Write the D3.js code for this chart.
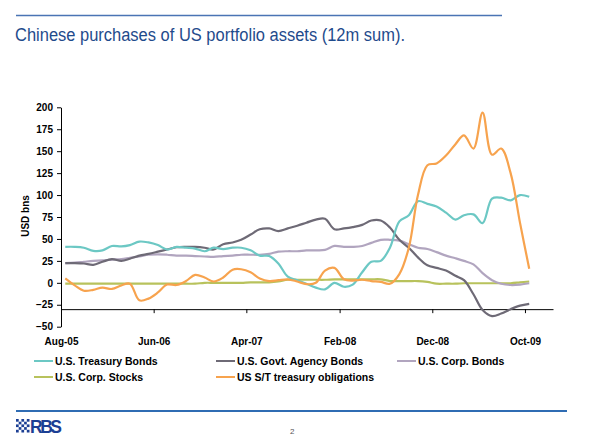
<!DOCTYPE html>
<html>
<head>
<meta charset="utf-8">
<script src="https://cdn.jsdelivr.net/npm/d3@7"></script>
<style>
  body { margin: 0; background: #fff; }
  svg { display: block; font-family: "Liberation Sans", Arial, sans-serif; }
  .axis text { font-size: 10px; font-weight: bold; fill: #000; }
  .axis path, .axis line { stroke: #000; }
</style>
</head>
<body>
<div id="chart"></div>
<script>
// Monthly data, Aug-05 .. Oct-09 (12m sums, USD bn)
const firstMonth = new Date(2005, 7, 1);
const lastMonth = new Date(2009, 9, 1);

const treasuryBonds = [41, 41, 40, 36.5, 37, 42, 41.5, 43, 47, 46,
  43, 38, 41, 40, 39, 36, 40, 38.5, 40, 40,
  37, 31, 30.5, 22, 7, 3, -1, -5.5, -7.5, 0,
  -4.5, -2, 12, 24, 25, 40, 70, 77, 93, 90,
  87, 80, 72, 77, 78, 68, 96, 97, 94, 100, 98];

const agencyBonds = [22.5, 22.5, 22, 20.5, 24, 27, 25, 27.5, 31, 33,
  35.5, 38, 40.5, 41, 41, 40, 38, 44, 46, 49,
  55, 61, 62, 59, 62, 65, 68.5, 72, 73, 61,
  62, 63.5, 66, 71, 71, 63, 49, 40, 29, 20,
  17, 14, 8, 3, -13, -31, -38, -35, -30, -26, -24];

const corpBonds = [22.5, 23, 24, 25, 25.5, 26.5, 27, 28.5, 30, 32,
  32.5, 32, 31, 31, 30.5, 30, 29.5, 30.5, 31, 32,
  32, 32, 33, 35.5, 36, 36, 37, 37, 37.5, 42,
  41, 41, 42, 45.5, 49, 49, 48, 44, 40, 38.5,
  35, 31, 28, 25, 21, 11, 3, -1, -2.5, -2, -0.5];

const corpStocks = [-1, -1, -1, -1, -1, -1, -1, -1, -1, -1,
  -1, -1, -1, -1, -1, 0, 0, 0, 0, 0,
  0.5, 0.5, 0.5, 1.5, 3.5, 3.5, 3.5, 3.5, 3.5, 4,
  4, 4, 4, 4, 4, 2, 2, 2, 2, 1,
  -1, -1, -1, -0.5, -0.5, -0.5, -0.5, -0.5, -0.5, 0.5, 1.5];

const stTreasury = [5, -3, -9, -8, -5.5, -7, -3, -1, -20, -18,
  -11, -2, -2.5, 2, 9, 6, 1.5, 6, 15, 15.5,
  12, 5, 2, 3, 4, 1.5, -1.5, 0, 14, 17,
  4, 2.5, 3.5, 2, 1, -1, 10, 40, 100, 134,
  136, 145, 158, 168, 153, 194, 146, 153, 125, 68, 16];

const seriesNames = ["U.S. Treasury Bonds", "U.S. Govt. Agency Bonds", "U.S. Corp. Bonds",
  "U.S. Corp. Stocks", "US S/T treasury obligations"];
const seriesColors = ["#6cc8c4", "#6e6a76", "#b1a5bf", "#b8c25c", "#f7a34e"];

const xTickLabels = ["Aug-05", "Jun-06", "Apr-07", "Feb-08", "Dec-08", "Oct-09"];
const yTicks = [-50, -25, 0, 25, 50, 75, 100, 125, 150, 175, 200];

const months = d3.timeMonth.range(firstMonth, d3.timeMonth.offset(lastMonth, 1));
const allSeries = [treasuryBonds, agencyBonds, corpBonds, corpStocks, stTreasury];

const W = 590, H = 442;
const svg = d3.select('#chart').append('svg')
  .attr('width', W)
  .attr('height', H);

// header rule and title
svg.append('line')
  .attr('x1', 16).attr('x2', 502).attr('y1', 15.5).attr('y2', 15.5)
  .attr('stroke', '#4a74b4').attr('stroke-width', 1.5);

svg.append('text')
  .attr('x', 15).attr('y', 41)
  .attr('font-size', 18)
  .attr('fill', '#1f4b8c')
  .attr('textLength', 390)
  .attr('lengthAdjust', 'spacingAndGlyphs')
  .text('Chinese purchases of US portfolio assets (12m sum).');

// scales
const xScale = d3.scaleTime()
  .domain([firstMonth, new Date(2010, 0, 1)])
  .range([61, 553]);

const yScale = d3.scaleLinear()
  .domain([-50, 200])
  .range([326.7, 107.3]);

// y axis
const yAxis = d3.axisLeft(yScale)
  .tickValues(yTicks)
  .tickSize(4)
  .tickSizeOuter(0)
  .tickPadding(4);

svg.append('g')
  .attr('class', 'axis y-axis')
  .attr('transform', `translate(61, 0)`)
  .call(yAxis);

// x axis crosses at -30
const tickDates = xTickLabels.map((d, i) => d3.timeMonth.offset(firstMonth, i * 10));
const xAxis = d3.axisBottom(xScale)
  .tickValues(tickDates)
  .tickFormat((d, i) => xTickLabels[i])
  .tickSize(4)
  .tickSizeOuter(0)
  .tickPadding(25);

svg.append('g')
  .attr('class', 'axis x-axis')
  .attr('transform', `translate(0, ${yScale(-30)})`)
  .call(xAxis);

svg.append('text')
  .attr('transform', `translate(29, 216) rotate(-90)`)
  .attr('text-anchor', 'middle')
  .attr('font-size', 10)
  .attr('font-weight', 'bold')
  .text('USD bns');

// lines
const line = d3.line()
  .x((d, i) => xScale(d3.timeDay.offset(months[i], 14)))
  .y(d => yScale(d))
  .curve(d3.curveCatmullRom.alpha(0.5));

// draw order: stocks, corp bonds, agency, treasury, orange on top
const drawOrder = [3, 2, 1, 0, 4];
svg.append('g')
  .selectAll('path')
  .data(drawOrder)
  .enter()
  .append('path')
  .attr('fill', 'none')
  .attr('stroke', k => seriesColors[k])
  .attr('stroke-width', 2.2)
  .attr('stroke-linejoin', 'round')
  .attr('d', k => line(allSeries[k]));

// legend
const legendPos = [[34, 361], [216, 361], [397, 361], [34, 377], [216, 377]];
const legend = svg.append('g')
  .selectAll('g')
  .data(seriesNames)
  .enter()
  .append('g')
  .attr('transform', (d, i) => `translate(${legendPos[i][0]}, ${legendPos[i][1]})`);

legend.append('line')
  .attr('x1', 0).attr('x2', 19)
  .attr('stroke', (d, i) => seriesColors[i])
  .attr('stroke-width', 2);

legend.append('text')
  .attr('x', 21).attr('y', 4)
  .attr('font-size', 10.5)
  .attr('font-weight', 'bold')
  .text(d => d);

// footer
svg.append('line')
  .attr('x1', 16).attr('x2', 567).attr('y1', 411).attr('y2', 411)
  .attr('stroke', '#2f6cb3').attr('stroke-width', 2);

const logo = svg.append('g').attr('transform', 'translate(16, 419)').attr('fill', '#1c3f94');
const cells = [[0, 0], [2, 0], [4, 0], [1, 1], [3, 1], [0, 2], [4, 2], [1, 3], [3, 3], [0, 4], [2, 4], [4, 4], [2, 2]];
logo.selectAll('rect')
  .data(cells)
  .enter()
  .append('rect')
  .attr('x', d => d[0] * 2.7)
  .attr('y', d => d[1] * 2.7)
  .attr('width', 2.7).attr('height', 2.7);

svg.append('text')
  .attr('x', 30).attr('y', 432.5)
  .attr('font-size', 17.5)
  .attr('font-weight', 'bold')
  .attr('fill', '#1c3f94')
  .attr('textLength', 32)
  .text('RBS');

svg.append('text')
  .attr('x', 290).attr('y', 434)
  .attr('font-size', 8)
  .attr('fill', '#555')
  .text('2');
</script>
</body>
</html>
